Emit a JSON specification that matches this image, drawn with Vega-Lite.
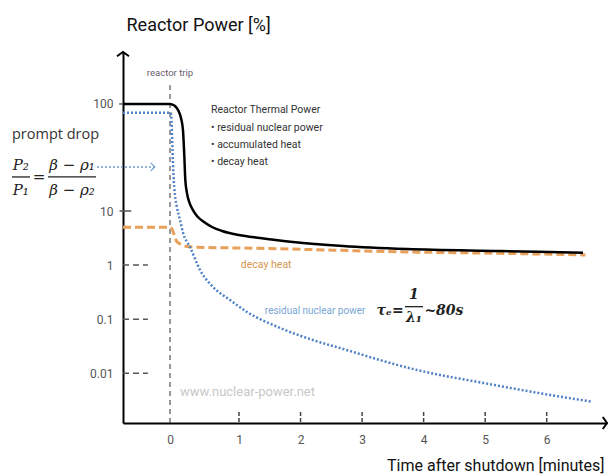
{
  "$schema": "https://vega.github.io/schema/vega-lite/v6.json",
  "width": 484,
  "height": 371,
  "autosize": "none",
  "padding": {"left": 123, "top": 52, "right": 1, "bottom": 52},
  "background": "white",
  "config": {"view": {"stroke": null}, "font": "Roboto, sans-serif"},
  "datasets": {
    "curves": [
      {"series": "thermal", "t": -0.68, "p": 100}, {"series": "thermal", "t": 0, "p": 100}, {"series": "thermal", "t": 0.029, "p": 98.9},
      {"series": "thermal", "t": 0.072, "p": 95.8}, {"series": "thermal", "t": 0.116, "p": 87.9}, {"series": "thermal", "t": 0.159, "p": 74},
      {"series": "thermal", "t": 0.188, "p": 57.1}, {"series": "thermal", "t": 0.207, "p": 33.4}, {"series": "thermal", "t": 0.222, "p": 19.5},
      {"series": "thermal", "t": 0.246, "p": 14.7}, {"series": "thermal", "t": 0.283, "p": 11.9}, {"series": "thermal", "t": 0.333, "p": 10.2},
      {"series": "thermal", "t": 0.391, "p": 8.08}, {"series": "thermal", "t": 0.493, "p": 6.25}, {"series": "thermal", "t": 0.609, "p": 5.06},
      {"series": "thermal", "t": 0.754, "p": 4.27}, {"series": "thermal", "t": 1.0, "p": 3.6}, {"series": "thermal", "t": 1.341, "p": 3.17},
      {"series": "thermal", "t": 1.877, "p": 2.67}, {"series": "thermal", "t": 2.69, "p": 2.25}, {"series": "thermal", "t": 3.73, "p": 1.98},
      {"series": "thermal", "t": 5.24, "p": 1.82}, {"series": "thermal", "t": 6.59, "p": 1.69},
      {"series": "residual", "t": -0.68, "p": 83}, {"series": "residual", "t": 0, "p": 83}, {"series": "residual", "t": 0.012, "p": 82.5},
      {"series": "residual", "t": 0.022, "p": 70}, {"series": "residual", "t": 0.036, "p": 37}, {"series": "residual", "t": 0.05, "p": 21.7},
      {"series": "residual", "t": 0.072, "p": 14.1}, {"series": "residual", "t": 0.1, "p": 10.9}, {"series": "residual", "t": 0.145, "p": 6.8},
      {"series": "residual", "t": 0.19, "p": 3.92}, {"series": "residual", "t": 0.29, "p": 2.16}, {"series": "residual", "t": 0.435, "p": 0.81},
      {"series": "residual", "t": 0.62, "p": 0.398}, {"series": "residual", "t": 0.87, "p": 0.226}, {"series": "residual", "t": 1.125, "p": 0.137},
      {"series": "residual", "t": 1.67, "p": 0.0686}, {"series": "residual", "t": 2.2, "p": 0.0411}, {"series": "residual", "t": 2.75, "p": 0.0269},
      {"series": "residual", "t": 3.29, "p": 0.0175}, {"series": "residual", "t": 3.89, "p": 0.0115}, {"series": "residual", "t": 4.97, "p": 0.0066},
      {"series": "residual", "t": 6.06, "p": 0.00395}, {"series": "residual", "t": 6.74, "p": 0.00297},
      {"series": "decay", "t": -0.68, "p": 5}, {"series": "decay", "t": 0, "p": 5}, {"series": "decay", "t": 0.03, "p": 4.6},
      {"series": "decay", "t": 0.072, "p": 3.3}, {"series": "decay", "t": 0.1, "p": 2.7}, {"series": "decay", "t": 0.17, "p": 2.4},
      {"series": "decay", "t": 0.25, "p": 2.2}, {"series": "decay", "t": 0.36, "p": 2.15}, {"series": "decay", "t": 1.34, "p": 2.04},
      {"series": "decay", "t": 3.72, "p": 1.75}, {"series": "decay", "t": 5.24, "p": 1.65}, {"series": "decay", "t": 6.63, "p": 1.54}
    ],
    "tripLine": [{"t": 0, "p": 0.0012, "p2": 150}],
    "yDashes": [{"t": -0.68, "t2": -0.32, "p": 1}, {"t": -0.68, "t2": -0.32, "p": 0.1}, {"t": -0.68, "t2": -0.32, "p": 0.01}],
    "yTicks": [{"t": -0.735, "t2": -0.68, "p": 100}, {"t": -0.73, "t2": -0.56, "p": 10}],
    "xTicks": [
      {"t": 1, "p": 0.00125, "p2": 0.00195}, {"t": 2, "p": 0.00125, "p2": 0.00195}, {"t": 3, "p": 0.00125, "p2": 0.00195},
      {"t": 4, "p": 0.00125, "p2": 0.00195}, {"t": 5, "p": 0.00125, "p2": 0.00195}, {"t": 6, "p": 0.00125, "p2": 0.00195}
    ],
    "yArrow": [{"t": -0.68, "p": 306}],
    "xArrow": [{"t": 6.98, "p": 0.0012}],
    "promptArrow": [{"t": -1.056, "t2": -0.22, "p": 25.8}],
    "promptHead": [{"t": -0.22, "p": 25.8}],
    "fracBars": [{"t": -2.286, "t2": -2.025, "p": 20.8}, {"t": -1.765, "t2": -1.071, "p": 20.8}, {"t": 3.697, "t2": 3.99, "p": 0.17}],
    "tripLabel": [{"t": 0, "p": 195, "label": "reactor trip"}],
    "thermalList": [
      {"t": 0.594, "p": 87.9, "label": "Reactor Thermal Power"},
      {"t": 0.594, "p": 59.7, "label": "• residual nuclear power"},
      {"t": 0.594, "p": 41.4, "label": "• accumulated heat"},
      {"t": 0.594, "p": 28.7, "label": "• decay heat"}
    ],
    "decayLabel": [{"t": 1.03, "p": 1.0, "label": "decay heat"}],
    "residualLabel": [{"t": 1.42, "p": 0.141, "label": "residual nuclear power"}],
    "watermark": [{"t": 0.145, "p": 0.00449, "label": "www.nuclear-power.net"}],
    "promptLabel": [{"t": -2.286, "p": 51.3, "label": "prompt drop"}],
    "promptMath": [
      {"t": -2.16, "p": 26.9, "label": "P₂"},
      {"t": -2.16, "p": 15.7, "label": "P₁"},
      {"t": -1.895, "p": 20.8, "label": "="},
      {"t": -1.418, "p": 26.9, "label": "β − ρ₁"},
      {"t": -1.418, "p": 15.7, "label": "β − ρ₂"}
    ],
    "tauMath": [
      {"t": 3.36, "p": 0.141, "label": "τₑ"},
      {"t": 3.58, "p": 0.141, "label": "="},
      {"t": 3.843, "p": 0.279, "label": "1"},
      {"t": 3.843, "p": 0.105, "label": "λ₁"},
      {"t": 4.33, "p": 0.141, "label": "~80s"}
    ]
  },
  "encoding": {
    "x": {
      "field": "t", "type": "quantitative",
      "scale": {"domain": [-0.68, 0, 1, 6.98], "range": [0, 47, 116, 484], "nice": false, "zero": false},
      "axis": {
        "values": [0, 1, 2, 3, 4, 5, 6], "ticks": false, "grid": false,
        "domainColor": "black", "domainWidth": 2,
        "labelColor": "#555", "labelFontSize": 12, "labelPadding": 11,
        "title": "Time after shutdown [minutes]", "titleFontSize": 16, "titleFontWeight": "normal", "titleColor": "#111",
        "titleX": 481, "titleY": 47, "titleAlign": "right", "titleBaseline": "alphabetic"
      }
    },
    "y": {
      "field": "p", "type": "quantitative",
      "scale": {"type": "log", "domain": [0.0012, 10, 306], "range": [371, 159, 0], "nice": false},
      "axis": {
        "values": [0.01, 0.1, 1, 10, 100],
        "labelExpr": "datum.value < 1 ? format(datum.value, '.2~f') : format(datum.value, 'd')",
        "ticks": false, "grid": false,
        "domainColor": "black", "domainWidth": 2,
        "labelColor": "#555", "labelFontSize": 12, "labelPadding": 10,
        "title": "Reactor Power [%]", "titleAngle": 0, "titleX": 3, "titleY": -27,
        "titleAlign": "left", "titleBaseline": "middle", "titleFontSize": 18, "titleFontWeight": "normal", "titleColor": "#111"
      }
    }
  },
  "layer": [
    {"data": {"name": "tripLine"}, "mark": {"type": "rule", "color": "#333", "strokeWidth": 1, "strokeDash": [5, 4]}, "encoding": {"y2": {"field": "p2"}}},
    {"data": {"name": "yDashes"}, "mark": {"type": "rule", "color": "#555", "strokeWidth": 1.5, "strokeDash": [6, 4]}, "encoding": {"x2": {"field": "t2"}}},
    {"data": {"name": "yTicks"}, "mark": {"type": "rule", "color": "#555", "strokeWidth": 1.5}, "encoding": {"x2": {"field": "t2"}}},
    {"data": {"name": "xTicks"}, "mark": {"type": "rule", "color": "#444", "strokeWidth": 1.5, "strokeDash": [4, 2]}, "encoding": {"y2": {"field": "p2"}}},
    {"data": {"name": "curves"}, "transform": [{"filter": "datum.series === 'decay'"}], "mark": {"type": "line", "color": "#e8a05a", "strokeWidth": 3, "strokeDash": [8, 4], "interpolate": "monotone"}},
    {"data": {"name": "curves"}, "transform": [{"filter": "datum.series === 'residual'"}], "mark": {"type": "line", "color": "#4f81c7", "strokeWidth": 2.5, "strokeDash": [2, 2], "interpolate": "monotone"}},
    {"data": {"name": "curves"}, "transform": [{"filter": "datum.series === 'thermal'"}], "mark": {"type": "line", "color": "#000000", "strokeWidth": 2.5, "interpolate": "monotone"}},
    {"data": {"name": "yArrow"}, "mark": {"type": "point", "shape": "M-1,0.7L0,0L1,0.7", "size": 144, "filled": false, "stroke": "black", "strokeWidth": 2, "opacity": 1}},
    {"data": {"name": "xArrow"}, "mark": {"type": "point", "shape": "M-0.7,-1L0,0L-0.7,1", "size": 144, "filled": false, "stroke": "black", "strokeWidth": 2, "opacity": 1}},
    {"data": {"name": "promptArrow"}, "mark": {"type": "rule", "color": "#6f9bd1", "strokeWidth": 1.5, "strokeDash": [2, 2]}, "encoding": {"x2": {"field": "t2"}}},
    {"data": {"name": "promptHead"}, "mark": {"type": "point", "shape": "M-1,-1L0,0L-1,1", "size": 64, "filled": false, "stroke": "#6f9bd1", "strokeWidth": 1.2, "opacity": 1}},
    {"data": {"name": "fracBars"}, "mark": {"type": "rule", "color": "#222", "strokeWidth": 1.3}, "encoding": {"x2": {"field": "t2"}}},
    {"data": {"name": "tripLabel"}, "mark": {"type": "text", "fontSize": 9.5, "color": "#6b5b73", "align": "center", "baseline": "middle"}, "encoding": {"text": {"field": "label"}}},
    {"data": {"name": "thermalList"}, "mark": {"type": "text", "fontSize": 10.5, "color": "#333", "align": "left", "baseline": "middle"}, "encoding": {"text": {"field": "label"}}},
    {"data": {"name": "decayLabel"}, "mark": {"type": "text", "fontSize": 10.5, "color": "#d4954f", "align": "left", "baseline": "middle"}, "encoding": {"text": {"field": "label"}}},
    {"data": {"name": "residualLabel"}, "mark": {"type": "text", "fontSize": 10, "color": "#7aa6d6", "align": "left", "baseline": "middle"}, "encoding": {"text": {"field": "label"}}},
    {"data": {"name": "watermark"}, "mark": {"type": "text", "fontSize": 13, "color": "#c8c8c8", "align": "left", "baseline": "middle"}, "encoding": {"text": {"field": "label"}}},
    {"data": {"name": "promptLabel"}, "mark": {"type": "text", "font": "Open Sans", "fontSize": 14.5, "color": "#333", "align": "left", "baseline": "middle"}, "encoding": {"text": {"field": "label"}}},
    {"data": {"name": "promptMath"}, "mark": {"type": "text", "font": "DejaVu Serif", "fontStyle": "italic", "fontSize": 15, "color": "#222", "align": "center", "baseline": "middle"}, "encoding": {"text": {"field": "label"}}},
    {"data": {"name": "tauMath"}, "mark": {"type": "text", "font": "DejaVu Serif", "fontStyle": "italic", "fontWeight": "bold", "fontSize": 14, "color": "#222", "align": "center", "baseline": "middle"}, "encoding": {"text": {"field": "label"}}}
  ]
}
